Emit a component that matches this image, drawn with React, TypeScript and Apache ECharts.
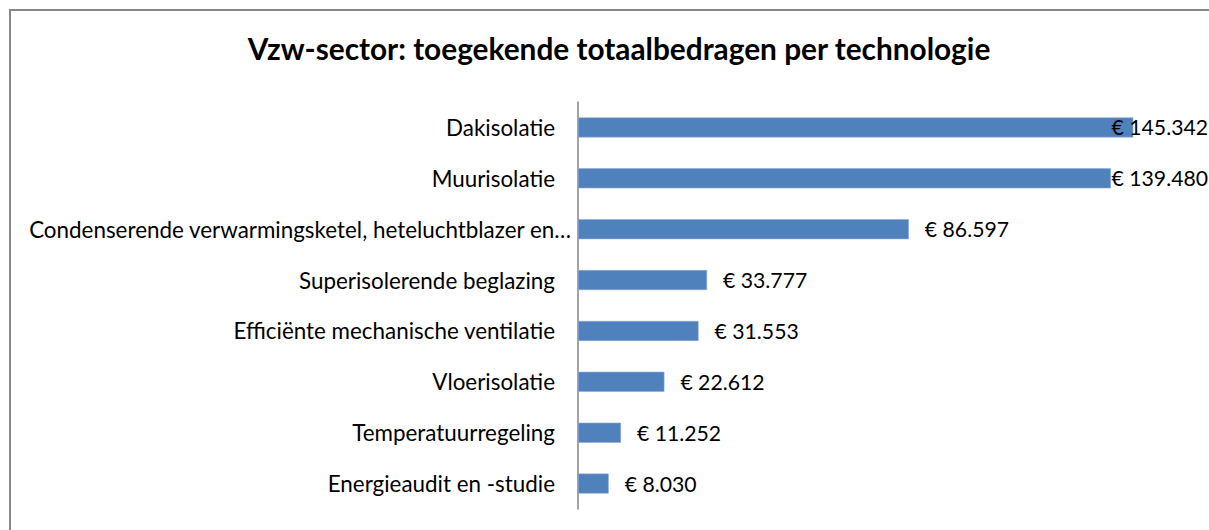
import React, { useEffect, useRef } from "react";
import * as echarts from "echarts";

const titleText = "Vzw-sector: toegekende totaalbedragen per technologie";
const categories = [
  "Dakisolatie",
  "Muurisolatie",
  "Condenserende verwarmingsketel, heteluchtblazer en…",
  "Superisolerende beglazing",
  "Efficiënte mechanische ventilatie",
  "Vloerisolatie",
  "Temperatuurregeling",
  "Energieaudit en -studie",
];
const values = [145342, 139480, 86597, 33777, 31553, 22612, 11252, 8030];

const W = 1209;
const H = 530;
const FONT = "Lato, 'Noto Sans', sans-serif";

function fmt(v: number): string {
  const s = String(Math.round(v));
  return "€ " + s.replace(/\B(?=(\d{3})+(?!\d))/g, ".");
}

export default function App() {
  const ref = useRef<HTMLDivElement>(null);
  useEffect(() => {
    if (!ref.current) return;
    const chart = echarts.init(ref.current, undefined, { renderer: "svg" });
    chart.setOption({
      animation: false,
      backgroundColor: "#ffffff",
      textStyle: { fontFamily: FONT },
      title: {
        text: titleText,
        left: 614,
        textAlign: "center",
        top: 28,
        textStyle: { fontFamily: FONT, fontWeight: "bold", fontSize: 29.8, color: "#000" },
      },
      graphic: [
        {
          type: "rect",
          shape: { x: 10, y: 10, width: 1400, height: 800 },
          style: { fill: "none", stroke: "#868686", lineWidth: 2 },
          silent: true,
        },
      ],
      grid: { left: 578, top: 102, height: 407, width: 611.3, containLabel: false },
      xAxis: {
        type: "value",
        min: 0,
        max: 160000,
        show: false,
      },
      yAxis: {
        type: "category",
        inverse: true,
        data: categories,
        axisLine: { show: true, lineStyle: { color: "#868686", width: 1.5 } },
        axisTick: { show: false },
        axisLabel: {
          margin: 7,
          fontFamily: FONT,
          fontSize: 22.4,
          color: "#000",
          formatter: (v: string, i: number) => (i === 2 ? `{l|${v}}` : `{n|${v}}`),
          rich: {
            n: { fontFamily: FONT, fontSize: 22.4, color: "#000", padding: [0, 16, 0, 0] },
            l: { fontFamily: FONT, fontSize: 22.4, color: "#000" },
          },
        },
      },
      series: [
        {
          type: "bar",
          data: values,
          barWidth: 20,
          itemStyle: { color: "#4f81bd", borderColor: "#8eaad6", borderWidth: 0.6 },
          label: {
            show: true,
            position: "right",
            distance: 16,
            fontFamily: FONT,
            fontSize: 21.2,
            color: "#000",
            formatter: (p: any) => fmt(p.value),
          },
          labelLayout: (params: any) => {
            const r = params.labelRect;
            const limit = W - 1;
            if (r.x + r.width > limit) {
              return {
                x: limit - r.width,
                y: r.y + r.height / 2,
                align: "left",
                verticalAlign: "middle",
              };
            }
            return {};
          },
        },
      ],
    });
    return () => chart.dispose();
  }, []);
  return (
    <div
      ref={ref}
      style={{ position: "fixed", left: 0, top: 0, width: W, height: H, background: "#fff" }}
    />
  );
}
